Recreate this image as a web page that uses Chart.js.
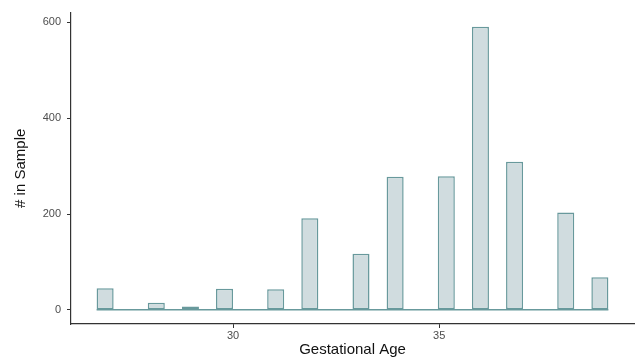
<!DOCTYPE html>
<html>
<head>
<meta charset="utf-8">
<script src="https://cdn.jsdelivr.net/npm/chart.js@4/dist/chart.umd.min.js"></script>
<style>
  html, body { margin: 0; padding: 0; background: #fff; }
</style>
</head>
<body>
<canvas id="histChart" width="635" height="360"></canvas>
<script>
// histogram bins (bin midpoints, gestational age in weeks) and their counts
const binMids = [26.897, 28.138, 28.966, 29.793, 31.034, 31.862, 33.103, 33.931, 35.172, 36.0, 36.828, 38.069, 38.897];
const counts = [45, 15, 7, 44, 43, 191, 117, 278, 279, 591, 309, 203, 68];
const binWidth = 0.4138;
const xTicks = [30, 35];
const yTicks = [0, 200, 400, 600];

const fontFamily = "'Liberation Sans', Arial, sans-serif";
const barFill = '#d0dcdf';
const barEdge = '#68999c';

// ggplot style 5% expansion around the data
const left = binMids[0] - binWidth / 2;
const right = binMids[binMids.length - 1] + binWidth / 2;
const xPad = (right - left) * 0.05;
const yMax = Math.max(...counts);
const yPad = yMax * 0.05;

const barData = binMids.map((m, i) => ({ x: m, y: counts[i] }));
const baseline = [{ x: left, y: 0 }, { x: right, y: 0 }];

new Chart(document.getElementById('histChart'), {
  type: 'bar',
  data: {
    datasets: [
      {
        type: 'line',
        data: baseline,
        borderColor: barEdge,
        borderWidth: 1.5,
        pointRadius: 0,
        fill: false
      },
      {
        data: barData,
        backgroundColor: barFill,
        borderColor: barEdge,
        borderWidth: 1.5,
        borderSkipped: false,
        barPercentage: 0.5,
        categoryPercentage: 1
      }
    ]
  },
  options: {
    responsive: false,
    animation: false,
    layout: { padding: { top: 6, right: 1, left: 0, bottom: 0 } },
    plugins: {
      legend: { display: false },
      tooltip: { enabled: false }
    },
    scales: {
      x: {
        type: 'linear',
        offset: false,
        min: left - xPad,
        max: right + xPad,
        afterBuildTicks: s => { s.ticks = xTicks.map(v => ({ value: v })); },
        afterFit: s => { s.height = 36; },
        grid: { offset: false, drawOnChartArea: false, drawTicks: true, tickLength: 4, color: '#333' },
        border: { display: true, color: '#333', width: 1.2 },
        ticks: {
          color: '#4d4d4d',
          font: { size: 11, family: fontFamily },
          padding: 1,
          maxRotation: 0
        },
        title: {
          display: true,
          text: 'Gestational Age',
          color: '#111',
          font: { size: 15, family: fontFamily },
          padding: { top: 0, bottom: 1.5 }
        }
      },
      y: {
        min: -yPad,
        max: yMax + yPad,
        afterBuildTicks: s => { s.ticks = yTicks.map(v => ({ value: v })); },
        afterFit: s => { s.width = 71; },
        grid: { drawOnChartArea: false, drawTicks: true, tickLength: 4, color: '#333' },
        border: { display: true, color: '#333', width: 1.2 },
        ticks: {
          color: '#4d4d4d',
          font: { size: 11, family: fontFamily },
          padding: 6
        },
        title: {
          display: true,
          text: '# in Sample',
          color: '#111',
          font: { size: 15, family: fontFamily },
          padding: { top: 12, bottom: 0 }
        }
      }
    }
  }
});
</script>
</body>
</html>
